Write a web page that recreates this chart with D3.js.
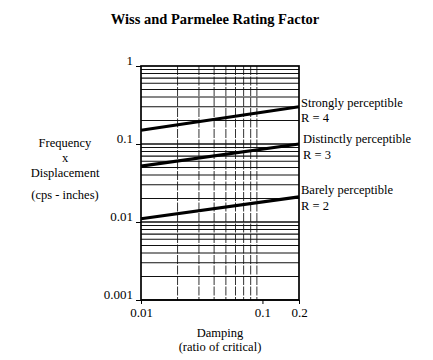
<!DOCTYPE html>
<html><head><meta charset="utf-8">
<script src="https://cdn.jsdelivr.net/npm/d3@7"></script>
<style>body{margin:0;background:#fff}svg{display:block}text{font-family:"Liberation Serif","Times New Roman",serif;fill:#000}</style>
</head><body><div id="c"></div>
<script>
const damping = [0.01, 0.2];
const strongly = [0.15, 0.30];
const distinctly = [0.052, 0.10];
const barely = [0.011, 0.021];
const xTicks = [0.01, 0.1, 0.2];
const yTicks = [1, 0.1, 0.01, 0.001];
const seriesNames = [["Strongly perceptible","R = 4"],["Distinctly perceptible","R = 3"],["Barely perceptible","R = 2"]];

const W=433,H=360;
const svg=d3.select("#c").append("svg").attr("width",W).attr("height",H);
const x=d3.scaleLog().domain([0.01,0.2]).range([141,299]);
const y=d3.scaleLog().domain([0.001,1]).range([300,66]);

svg.append("text").attr("x",215).attr("y",24).attr("text-anchor","middle")
  .style("font-weight","bold").style("font-size","14.5px").text("Wiss and Parmelee Rating Factor");

const g=svg.append("g");
const xg=[];
for(let d=0.01; d<0.2; d*=10){ for(let k=2;k<=9;k++){ const v=d*k; if(v<0.2) xg.push(+v.toPrecision(3)); } }
const is01=d=>Math.abs(d-0.1)<1e-9;
g.selectAll(".vx").data(xg).enter().append("line")
  .attr("x1",d=>x(d)).attr("x2",d=>x(d)).attr("y1",y(1)).attr("y2",y(0.001))
  .attr("stroke",d=>is01(d)?"#000":"#333").attr("stroke-width",d=>is01(d)?1.4:1)
  .attr("stroke-dasharray",d=>is01(d)?null:"9,1.5");
const yg=[];
for(const d of [0.001,0.01,0.1]){ for(let k=1;k<=9;k++) yg.push(+(d*k).toPrecision(3)); }
g.selectAll(".hy").data(yg).enter().append("line")
  .attr("x1",x(0.01)).attr("x2",x(0.2)).attr("y1",d=>y(d)).attr("y2",d=>y(d))
  .attr("stroke","#111").attr("stroke-width",d=>yTicks.includes(d)?1.7:1.1);
g.append("rect").attr("x",x(0.01)).attr("y",y(1)).attr("width",x(0.2)-x(0.01)).attr("height",y(0.001)-y(1))
  .attr("fill","none").attr("stroke","#000").attr("stroke-width",1.7);

const yAxis=d3.axisLeft(y).tickValues(yTicks).tickFormat(d=>String(d)).tickSize(5).tickPadding(3);
const ya=svg.append("g").attr("transform",`translate(${x(0.01)},0)`).call(yAxis);
ya.select(".domain").remove();
ya.selectAll("text").style("font-size","13px").attr("dy","-0.1em");
ya.selectAll("line").attr("stroke","#000");
const xAxis=d3.axisBottom(x).tickValues(xTicks).tickFormat(d=>String(d)).tickSize(4).tickPadding(4);
const xa=svg.append("g").attr("transform",`translate(0,${y(0.001)})`).call(xAxis);
xa.select(".domain").remove();
xa.selectAll("text").style("font-size","13px");
xa.selectAll("line").attr("stroke","#000");

const line=d3.line().x(d=>x(d[0])).y(d=>y(d[1]));
[strongly,distinctly,barely].forEach(s=>{
  svg.append("path").datum(damping.map((d,i)=>[d,s[i]])).attr("d",line)
    .attr("fill","none").attr("stroke","#000").attr("stroke-width",3.2);
});

const labY=[[103,118],[139,155],[190,206]];
seriesNames.forEach((n,i)=>{
  svg.append("text").attr("x",i===1?303:301).attr("y",labY[i][0]+4).style("font-size","12.5px").text(n[0]);
  svg.append("text").attr("x",i===1?303:301).attr("y",labY[i][1]+4).style("font-size","12.5px").text(n[1]);
});

[["Frequency",147],["x",162],["Displacement",177],["(cps - inches)",199]].forEach(t=>{
  svg.append("text").attr("x",65).attr("y",t[1]).attr("text-anchor","middle").style("font-size","12.5px").text(t[0]);
});
svg.append("text").attr("x",220).attr("y",337).attr("text-anchor","middle").style("font-size","12.5px").text("Damping");
svg.append("text").attr("x",220).attr("y",351).attr("text-anchor","middle").style("font-size","12.5px").text("(ratio of critical)");
</script></body></html>
